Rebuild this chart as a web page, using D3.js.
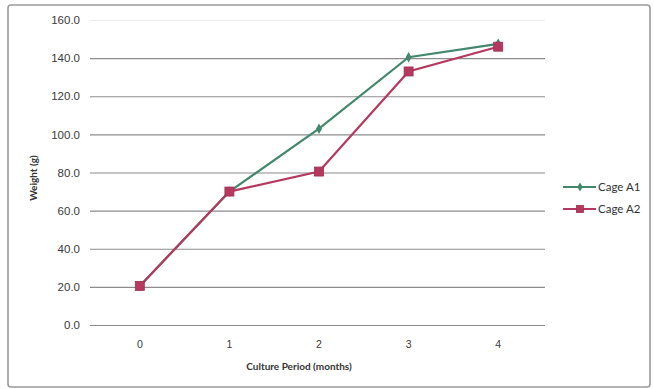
<!DOCTYPE html>
<html>
<head>
<meta charset="utf-8">
<script src="https://cdn.jsdelivr.net/npm/d3@7"></script>
<style>
  html, body { margin: 0; padding: 0; background: #fff; }
  svg { display: block; font-family: Lato, "Open Sans", sans-serif; }
</style>
</head>
<body>
<svg id="chart" width="654" height="389"></svg>
<script>
// Culture period (months) and mean weight (g) per cage
const months = ["0", "1", "2", "3", "4"];
const cageA1 = [20.5, 70.0, 103.0, 140.5, 147.5];
const cageA2 = [20.5, 70.0, 80.5, 133.0, 146.0];
const seriesNames = ["Cage A1", "Cage A2"];
const yTicks = [0, 20, 40, 60, 80, 100, 120, 140, 160];

const series = [
  { name: seriesNames[0], values: cageA1, color: "#43886c", marker: "diamond" },
  { name: seriesNames[1], values: cageA2, color: "#b5395f", marker: "square" }
];

const svg = d3.select("#chart");

// outer chart frame
svg.append("rect")
  .attr("x", 8).attr("y", 5).attr("width", 642).attr("height", 382)
  .attr("rx", 3)
  .attr("fill", "#fff").attr("stroke", "#9a9a9a").attr("stroke-width", 1.6);

const plot = { left: 90, right: 545, top: 20, bottom: 325 };

const x = d3.scaleBand().domain(months).range([95, 543]).padding(0);
const y = d3.scaleLinear().domain([0, 160]).range([plot.bottom, plot.top]);

// horizontal gridlines with value labels
const yAxis = d3.axisLeft(y)
  .tickValues(yTicks)
  .tickFormat(d3.format(".1f"))
  .tickSize(-(plot.right - plot.left))
  .tickPadding(10);

const gy = svg.append("g")
  .attr("transform", `translate(${plot.left},0)`)
  .call(yAxis);
gy.select(".domain").remove();
gy.selectAll(".tick line")
  .attr("stroke", d => d === 160 ? "#ececec" : "#8c8c8c")
  .attr("stroke-width", 1.2);
gy.selectAll(".tick text")
  .attr("fill", "#3a3a3a").attr("font-size", 11.5);

// category labels under the baseline
const xAxis = d3.axisBottom(x).tickSize(0).tickPadding(16);
const gx = svg.append("g")
  .attr("transform", `translate(0,${plot.bottom})`)
  .call(xAxis);
gx.select(".domain").remove();
gx.selectAll(".tick text").attr("fill", "#3a3a3a").attr("font-size", 10.5);

// axis titles
svg.append("text")
  .attr("x", 299).attr("y", 370)
  .attr("text-anchor", "middle")
  .attr("font-size", 10).attr("font-weight", "bold").attr("fill", "#333")
  .text("Culture Period (months)");

svg.append("text")
  .attr("transform", "translate(37,178) rotate(-90)")
  .attr("text-anchor", "middle")
  .attr("font-size", 10).attr("font-weight", "bold").attr("fill", "#333")
  .text("Weight (g)");

const cx = i => x(months[i]) + x.bandwidth() / 2;

const line = d3.line()
  .x((d, i) => cx(i))
  .y(d => y(d));

function drawMarker(g, type, color, px, py, size) {
  if (type === "square") {
    const h = size / 2;
    g.append("rect")
      .attr("x", px - h).attr("y", py - h)
      .attr("width", size).attr("height", size)
      .attr("fill", color).attr("stroke", d3.color(color).darker(0.4)).attr("stroke-width", 0.8);
  } else {
    g.append("path")
      .attr("d", d3.symbol(d3.symbolDiamond, size * 3.5)())
      .attr("transform", `translate(${px},${py})`)
      .attr("fill", color);
  }
}

series.forEach(s => {
  const g = svg.append("g");
  g.append("path")
    .datum(s.values)
    .attr("d", line)
    .attr("fill", "none")
    .attr("stroke", s.color)
    .attr("stroke-width", 2.2);
  s.values.forEach((v, i) => drawMarker(g, s.marker, s.color, cx(i), y(v), 9));
});

// legend
const legend = svg.append("g");
series.forEach((s, i) => {
  const ly = 187 + i * 22;
  const g = legend.append("g");
  g.append("line")
    .attr("x1", 563).attr("x2", 596).attr("y1", ly).attr("y2", ly)
    .attr("stroke", s.color).attr("stroke-width", 1.8);
  drawMarker(g, s.marker, s.color, 580, ly, 7);
  g.append("text")
    .attr("x", 598).attr("y", ly + 4)
    .attr("font-size", 11.5).attr("fill", "#333")
    .text(s.name);
});
</script>
</body>
</html>
